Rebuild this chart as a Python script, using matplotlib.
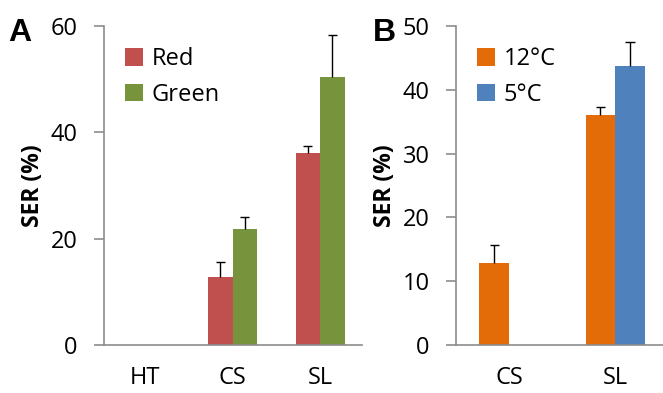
import numpy as np
import matplotlib.pyplot as plt

plt.rcParams['font.family'] = ['Open Sans', 'DejaVu Sans']

# panel A data
cats_a = ['HT', 'CS', 'SL']
red = [0, 12.8, 36.1]
red_err = [0, 2.8, 1.3]
green = [0, 21.8, 50.4]
green_err = [0, 2.3, 7.9]

# panel B data
cats_b = ['CS', 'SL']
warm = [12.8, 36.1]
warm_err = [2.9, 1.2]
cold = [np.nan, 43.8]
cold_err = [0, 3.7]

c_red = '#C0504D'
c_green = '#77933C'
c_orange = '#E36C09'
c_blue = '#4F81BD'
spine_c = '#8C8C8C'

fig = plt.figure(figsize=(6.63, 3.93), dpi=100)
axA = fig.add_axes([0.157, 0.122, 0.389, 0.812])
axB = fig.add_axes([0.688, 0.122, 0.312, 0.812])

w = 0.28


def err_up(ax, xs, vals, errs, cap=0.05):
    # upper half only, like the original
    for xi, v, e in zip(xs, vals, errs):
        if np.isnan(v) or e == 0:
            continue
        ax.vlines(xi, v, v + e, color='black', lw=1)
        ax.hlines(v + e, xi - cap, xi + cap, color='black', lw=1)


x = np.arange(len(cats_a))
axA.bar(x - w/2, red, w, color=c_red, label='Red')
axA.bar(x + w/2, green, w, color=c_green, label='Green')
err_up(axA, x - w/2, red, red_err)
err_up(axA, x + w/2, green, green_err)
axA.set_xlim(-0.47, 2.48)
axA.set_ylim(0, 60)
axA.set_yticks([0, 20, 40, 60])
axA.set_xticks(x)
axA.set_xticklabels(cats_a)

xb = np.arange(len(cats_b))
axB.bar(xb - w/2, warm, w, color=c_orange, label='12°C')
axB.bar(xb + w/2, cold, w, color=c_blue, label='5°C')
err_up(axB, xb - w/2, warm, warm_err, cap=0.045)
err_up(axB, xb + w/2, cold, cold_err, cap=0.045)
axB.set_xlim(-0.5, 1.45)
axB.set_ylim(0, 50)
axB.set_yticks([0, 10, 20, 30, 40, 50])
axB.set_xticks(xb)
axB.set_xticklabels(cats_b)

for ax in (axA, axB):
    for s in ('top', 'right'):
        ax.spines[s].set_visible(False)
    for s in ('left', 'bottom'):
        ax.spines[s].set_color(spine_c)
        ax.spines[s].set_linewidth(1.2)
    ax.tick_params(axis='y', length=7, color=spine_c, width=1.2, labelsize=17, pad=12)
    ax.tick_params(axis='x', length=0, labelsize=17, pad=15)
    ax.set_ylabel('SER (%)', fontsize=16.5, fontweight='bold', labelpad=4)
    ax.legend(loc='upper left', frameon=False, fontsize=17, handlelength=0.75,
              handleheight=0.75, handletextpad=0.35, labelspacing=0.5,
              bbox_to_anchor=(0.0, 1.0))

fig.text(0.012, 0.915, 'A', fontsize=23, fontweight='bold', va='center',
         family='Liberation Sans')
fig.text(0.563, 0.915, 'B', fontsize=23, fontweight='bold', va='center',
         family='Liberation Sans')

fig.savefig('out.png', dpi=100)
